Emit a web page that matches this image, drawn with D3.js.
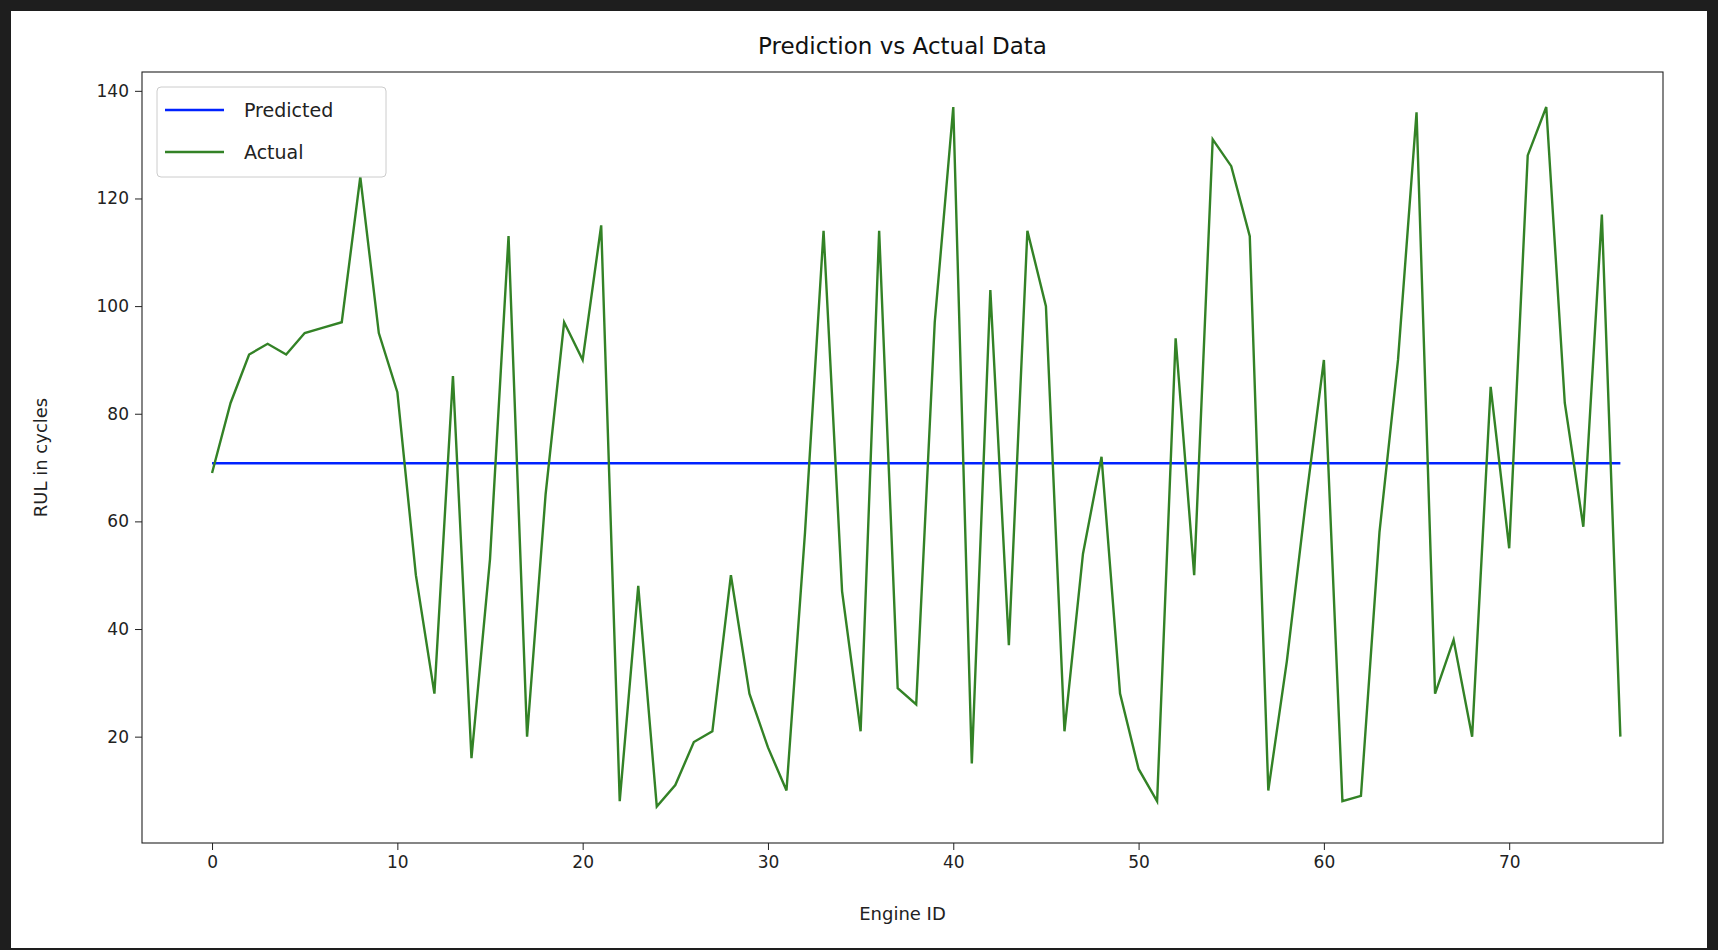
<!DOCTYPE html>
<html><head><meta charset="utf-8">
<script src="https://cdn.jsdelivr.net/npm/d3@7"></script>
<style>body{margin:0;background:#1e1e1e;}svg{display:block;}</style></head>
<body><svg id="c" width="1718" height="950"></svg>
<script>
const actual=[69,82,91,93,91,95,96,97,124,95,84,50,28,87,16,53,113,20,65,97,90,115,8,48,7,11,19,21,50,28,18,10,58,114,47,21,114,29,26,97,137,15,103,37,114,100,21,54,72,28,14,8,94,50,131,126,113,10,34,63,90,8,9,58,90,136,28,38,20,85,55,128,137,82,59,117,20];
const predictedValue=70.8;
const predicted=actual.map(()=>predictedValue);
const xTicks=[0,10,20,30,40,50,60,70];
const yTicks=[20,40,60,80,100,120,140];

const svg=d3.select("#c");
svg.append("rect").attr("x",11).attr("y",11).attr("width",1696).attr("height",937).attr("fill","#fff");
const L=142,R=1663,T=72,B=843;
const x=d3.scaleLinear().domain([-3.78,78.3]).range([L,R]);
const y=d3.scaleLinear().domain([0.24,143.5]).range([B,T]);
const font="DejaVu Sans";
const gx=svg.append("g").attr("transform",`translate(0,${B})`).call(d3.axisBottom(x).tickValues(xTicks).tickSize(7).tickPadding(6));
const gy=svg.append("g").attr("transform",`translate(${L},0)`).call(d3.axisLeft(y).tickValues(yTicks).tickSize(7).tickPadding(6));
[gx,gy].forEach(g=>{g.select(".domain").remove();g.selectAll("text").attr("font-family",font).attr("font-size",17).attr("fill","#222");g.selectAll("line").attr("stroke","#222");});
const line=d3.line().x((d,i)=>x(i)).y(d=>y(d));
svg.append("path").datum(predicted).attr("d",line).attr("fill","none").attr("stroke","#0022ff").attr("stroke-width",2.4);
svg.append("path").datum(actual).attr("d",line).attr("fill","none").attr("stroke","#338226").attr("stroke-width",2.4);
svg.append("rect").attr("x",L).attr("y",T).attr("width",R-L).attr("height",B-T).attr("fill","none").attr("stroke","#222").attr("stroke-width",1.1);
svg.append("text").attr("x",(L+R)/2).attr("y",54).attr("text-anchor","middle").attr("font-family",font).attr("font-size",23).attr("fill","#111").text("Prediction vs Actual Data");
svg.append("text").attr("x",(L+R)/2).attr("y",920).attr("text-anchor","middle").attr("font-family",font).attr("font-size",18).attr("fill","#222").text("Engine ID");
svg.append("text").attr("transform",`translate(47,${(T+B)/2}) rotate(-90)`).attr("text-anchor","middle").attr("font-family",font).attr("font-size",18).attr("fill","#222").text("RUL in cycles");
const lg=svg.append("g");
lg.append("rect").attr("x",157).attr("y",87).attr("width",229).attr("height",90).attr("rx",4).attr("fill","#fff").attr("stroke","#ccc");
[["Predicted","#0022ff"],["Actual","#338226"]].forEach((d,i)=>{
 const yy=110+i*42;
 lg.append("line").attr("x1",165).attr("x2",224).attr("y1",yy).attr("y2",yy).attr("stroke",d[1]).attr("stroke-width",2.4);
 lg.append("text").attr("x",244).attr("y",yy+7).attr("font-family",font).attr("font-size",19).attr("fill","#222").text(d[0]);
});
</script></body></html>
